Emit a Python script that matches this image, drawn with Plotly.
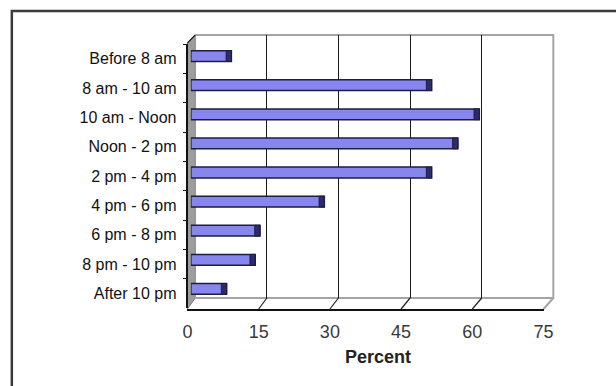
import plotly.graph_objects as go

# Share of respondents by time of day
categories = [
    "Before 8 am", "8 am - 10 am", "10 am - Noon", "Noon - 2 pm",
    "2 pm - 4 pm", "4 pm - 6 pm", "6 pm - 8 pm", "8 pm - 10 pm", "After 10 pm",
]
percent = [8.5, 50.5, 60.5, 56.0, 50.5, 28.0, 14.5, 13.5, 7.5]
x_ticks = [0, 15, 30, 45, 60, 75]
x_title = "Percent"

W, H = 616, 386
X_MAX = x_ticks[-1]


def px(x):
    return x / W


def py(y):
    return 1 - y / H


# pseudo-3D box geometry, in pixels
FRONT_L, FRONT_R, FRONT_Y, FRONT_TOP = 187, 552, 309, 44
BACK_L, BACK_R, BACK_TOP, BACK_BOT = 195, 562, 35, 298
BAR_L, BAR_R, BAR_TOP, BAR_BOT = 190.5, 557, 41.5, 303.5


def front_x(v):
    return FRONT_L + v * (FRONT_R - FRONT_L) / X_MAX


def back_x(v):
    return BACK_L + v * (BACK_R - BACK_L) / X_MAX


def path(points):
    return "M " + " L ".join(f"{px(x)},{py(y)}" for x, y in points) + " Z"


BAR_FILL = "#8686ee"
BAR_EDGE = "#1d1d40"
CAP_FILL = "#2c2c66"
cap_len = 1.1

fig = go.Figure()

# bars
fig.add_trace(go.Bar(
    x=percent, y=categories, orientation="h",
    xaxis="x3", yaxis="y3", width=0.37,
    marker=dict(color=BAR_FILL, line=dict(color=BAR_EDGE, width=1.5)),
    hoverinfo="x+y", showlegend=False,
))
# dark end face of each bar
fig.add_trace(go.Bar(
    x=[cap_len] * len(percent), base=[v - cap_len for v in percent], y=categories,
    orientation="h", xaxis="x3", yaxis="y3", width=0.37,
    marker=dict(color=CAP_FILL, line=dict(color=BAR_EDGE, width=1)),
    hoverinfo="skip", showlegend=False,
))
# invisible anchors for the front and back axes
fig.add_trace(go.Scatter(
    x=percent, y=categories, xaxis="x2", yaxis="y2", mode="markers",
    marker=dict(opacity=0), hoverinfo="skip", showlegend=False,
))
fig.add_trace(go.Scatter(
    x=percent, y=categories, xaxis="x", yaxis="y", mode="markers",
    marker=dict(opacity=0), hoverinfo="skip", showlegend=False,
))

shapes = []
# outer frame
shapes.append(dict(type="rect", xref="paper", yref="paper",
                   x0=px(7), x1=1.1, y0=-0.1, y1=py(11),
                   line=dict(color="#3a3a3a", width=2.5), layer="below"))
# grey side wall
shapes.append(dict(type="path", xref="paper", yref="paper",
                   path=path([(FRONT_L, FRONT_TOP - 1), (BACK_L, BACK_TOP),
                              (BACK_L, BACK_BOT), (FRONT_L, FRONT_Y)]),
                   fillcolor="#9d9d9d", line=dict(color="#808080", width=1),
                   layer="below"))
# back wall outline
shapes.append(dict(type="path", xref="paper", yref="paper",
                   path="M " + " L ".join(f"{px(x)},{py(y)}" for x, y in
                                          [(BACK_L, BACK_TOP), (BACK_R, BACK_TOP),
                                           (BACK_R, BACK_BOT), (BACK_L, BACK_BOT)]),
                   line=dict(color="#a4a4a4", width=2), layer="below"))
# floor right edge
shapes.append(dict(type="line", xref="paper", yref="paper",
                   x0=px(FRONT_R), y0=py(FRONT_Y), x1=px(BACK_R), y1=py(BACK_BOT),
                   line=dict(color="#a4a4a4", width=2), layer="below"))
# side wall top edge
shapes.append(dict(type="line", xref="paper", yref="paper",
                   x0=px(FRONT_L), y0=py(FRONT_TOP - 1), x1=px(BACK_L), y1=py(BACK_TOP),
                   line=dict(color="#202020", width=1.2), layer="above"))
# floor grid lines running from the front axis to the back wall
for v in x_ticks[1:-1]:
    shapes.append(dict(type="line", xref="paper", yref="paper",
                       x0=px(front_x(v)), y0=py(FRONT_Y), x1=px(back_x(v)), y1=py(BACK_BOT),
                       line=dict(color="#202020", width=1.2), layer="above"))

LABEL_FONT = dict(family="Liberation Sans, Arial, sans-serif", size=16, color="#111111")
TICK_FONT = dict(family="Liberation Sans, Arial, sans-serif", size=18, color="#3a3a3a")

fig.update_layout(
    width=W, height=H, autosize=False,
    margin=dict(l=0, r=0, t=0, b=0),
    paper_bgcolor="white", plot_bgcolor="rgba(0,0,0,0)",
    barmode="overlay", showlegend=False,
    shapes=shapes,
    # back wall: vertical grid lines
    xaxis=dict(domain=[px(BACK_L), px(BACK_R)], range=[0, X_MAX], anchor="y",
               tickvals=x_ticks[1:-1], showticklabels=False, ticks="",
               showgrid=True, gridcolor="#1a1a1a", gridwidth=1.3,
               zeroline=False, showline=False, fixedrange=True),
    yaxis=dict(domain=[py(BACK_BOT), py(BACK_TOP)], type="category",
               categoryorder="array", categoryarray=categories, range=[8.5, -0.5],
               anchor="x", showticklabels=False, ticks="", showgrid=False,
               zeroline=False, showline=False, fixedrange=True),
    # front axes: labels, ticks and axis lines
    xaxis2=dict(domain=[px(FRONT_L), px(FRONT_R)], range=[0, X_MAX],
                anchor="free", position=py(FRONT_Y + 0.5),
                tickvals=x_ticks, ticktext=[str(t) for t in x_ticks],
                ticks="", ticklabelstandoff=6, tickfont=TICK_FONT,
                showgrid=False, zeroline=False,
                showline=True, linecolor="#111111", linewidth=2, fixedrange=True),
    yaxis2=dict(domain=[py(FRONT_Y - 1), py(FRONT_TOP)], type="category",
                categoryorder="array", categoryarray=categories, range=[8.5, -0.5],
                anchor="free", position=px(FRONT_L),
                ticks="outside", tickson="boundaries", ticklen=4,
                tickcolor="#111111", tickwidth=1.3,
                tickfont=LABEL_FONT, ticklabelstandoff=7,
                showgrid=False, zeroline=False,
                showline=True, linecolor="#111111", linewidth=1.5, fixedrange=True),
    # bar plane
    xaxis3=dict(domain=[px(BAR_L), px(BAR_R)], range=[0, X_MAX], anchor="y3",
                visible=False, fixedrange=True),
    yaxis3=dict(domain=[py(BAR_BOT), py(BAR_TOP)], type="category",
                categoryorder="array", categoryarray=categories, range=[8.5, -0.5],
                anchor="x3", visible=False, fixedrange=True),
    annotations=[dict(
        text=x_title, xref="paper", yref="paper", x=px(382), y=py(357),
        xanchor="center", yanchor="middle", showarrow=False,
        font=dict(family="Liberation Sans, Arial, sans-serif", size=18,
                  color="#222222", weight="bold"),
    )],
)

fig.write_html("out.html")
